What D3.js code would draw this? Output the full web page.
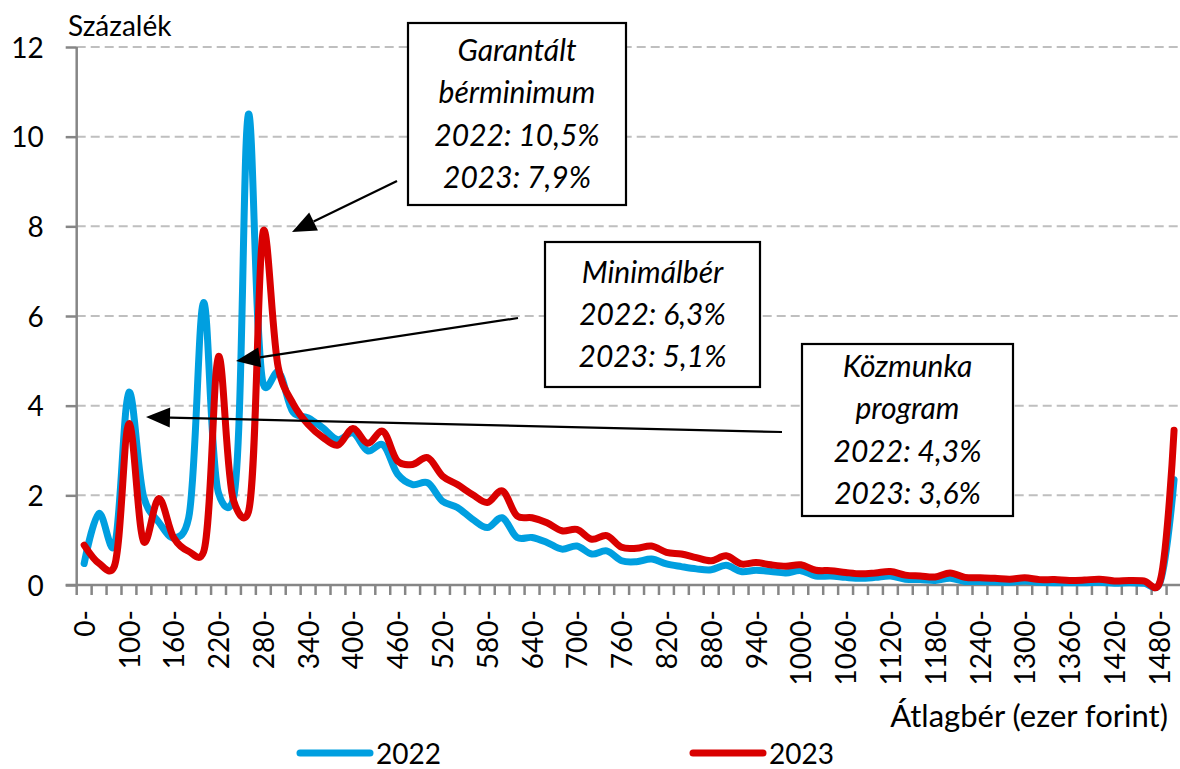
<!DOCTYPE html>
<html>
<head>
<meta charset="utf-8">
<script src="https://cdnjs.cloudflare.com/ajax/libs/d3/7.8.5/d3.min.js"></script>
<style>
  body { margin: 0; background: #fff; }
  svg text { font-family: Lato, "Noto Sans", sans-serif; fill: #000; }
  .grid line { stroke: #bfbfbf; stroke-width: 2; stroke-dasharray: 9,5; }
  .axis line, .axisline { stroke: #868686; stroke-width: 2.5; }
  .note text { font-style: italic; font-size: 30px; text-anchor: middle; }
</style>
</head>
<body>
<script>
// wage bands (thousand HUF), only every third one is labelled
var categories = ["0-","60-","80-","100-","120-","140-","160-","180-","200-","220-","240-","260-","280-","300-","320-","340-","360-","380-","400-","420-","440-","460-","480-","500-","520-","540-","560-","580-","600-","620-","640-","660-","680-","700-","720-","740-","760-","780-","800-","820-","840-","860-","880-","900-","920-","940-","960-","980-","1000-","1020-","1040-","1060-","1080-","1100-","1120-","1140-","1160-","1180-","1200-","1220-","1240-","1260-","1280-","1300-","1320-","1340-","1360-","1380-","1400-","1420-","1440-","1460-","1480-","1500-"];
var tickLabels = ["0-","100-","160-","220-","280-","340-","400-","460-","520-","580-","640-","700-","760-","820-","880-","940-","1000-","1060-","1120-","1180-","1240-","1300-","1360-","1420-","1480-"];
var yTicks = [0, 2, 4, 6, 8, 10, 12];

var values2022 = [0.48,1.6,0.85,4.3,1.95,1.4,1.05,1.5,6.3,2.05,1.93,10.5,4.48,4.75,3.85,3.73,3.5,3.24,3.39,2.99,3.13,2.47,2.24,2.28,1.87,1.73,1.47,1.28,1.5,1.06,1.06,0.95,0.8,0.87,0.69,0.76,0.54,0.52,0.58,0.47,0.41,0.36,0.34,0.44,0.3,
  0.33,0.3,0.27,0.32,0.2,0.2,0.17,0.15,0.17,0.2,0.13,0.12,0.1,0.15,0.08,0.08,0.07,0.06,0.09,0.06,0.05,0.05,0.05,0.06,0.04,0.05,0.04,0.01,2.35];
var values2023 = [0.89,0.48,0.4,3.6,0.96,1.93,1.05,0.75,0.74,5.1,1.89,1.63,7.9,4.85,4.04,3.58,3.29,3.12,3.49,3.16,3.43,2.76,2.69,2.84,2.43,2.24,2.02,1.84,2.1,1.54,1.5,1.39,1.21,1.24,1.02,1.1,0.84,0.82,0.87,0.73,0.69,0.61,0.54,0.65,0.47,
  0.5,0.45,0.42,0.45,0.33,0.32,0.28,0.25,0.27,0.3,0.22,0.2,0.18,0.27,0.17,0.16,0.15,0.13,0.16,0.12,0.12,0.1,0.11,0.13,0.09,0.1,0.09,0.02,3.45];

var series = [
  {name: "2022", values: values2022, color: "#009fe0"},
  {name: "2023", values: values2023, color: "#d90000"}
];

var notes = [
  {lines: ["Garantált", "bérminimum", "2022: 10,5%", "2023: 7,9%"], x: 408, y: 23, w: 218, h: 182},
  {lines: ["Minimálbér", "2022: 6,3%", "2023: 5,1%"], x: 545, y: 242, w: 215, h: 145},
  {lines: ["Közmunka", "program", "2022: 4,3%", "2023: 3,6%"], x: 802, y: 344, w: 211, h: 172}
];
var arrows = [
  {from: [397, 181], to: [292, 232]},
  {from: [518, 318], to: [236, 361]},
  {from: [782, 432], to: [146, 417]}
];

var width = 1180, height = 769;
var plotLeft = 76.7, plotBottom = 585, plotTop = 47;
var step = 14.93;

var xBand = d3.scaleBand().domain(categories)
    .range([plotLeft, plotLeft + step * categories.length]);
var x = d3.scalePoint().domain(categories)
    .range([plotLeft + step / 2, plotLeft + step * (categories.length - 0.5)]);
var y = d3.scaleLinear().domain([0, 12]).range([plotBottom, plotTop]);

var svg = d3.select("body").append("svg")
    .attr("width", width)
    .attr("height", height);

// gridlines
svg.append("g").attr("class", "grid")
  .selectAll("line")
  .data(yTicks.filter(function(d) { return d > 0; }))
  .enter().append("line")
    .attr("x1", plotLeft).attr("x2", width)
    .attr("y1", function(d) { return y(d); })
    .attr("y2", function(d) { return y(d); });

// y axis
var yAxis = svg.append("g").attr("class", "axis")
    .attr("transform", "translate(" + plotLeft + ",0)")
    .call(d3.axisLeft(y).tickValues(yTicks).tickSize(11).tickSizeOuter(0).tickPadding(22));
yAxis.select(".domain").remove();
yAxis.selectAll("text").attr("font-size", 28).attr("dy", "0.36em");

svg.append("line").attr("class", "axisline")
    .attr("x1", plotLeft).attr("x2", plotLeft)
    .attr("y1", plotTop).attr("y2", plotBottom);

// x axis line and ticks at band edges
svg.append("line").attr("class", "axisline")
    .attr("x1", plotLeft - 11).attr("x2", width)
    .attr("y1", plotBottom).attr("y2", plotBottom);
svg.append("g").attr("class", "axis")
  .selectAll("line")
  .data(categories)
  .enter().append("line")
    .attr("x1", function(d) { return xBand(d); })
    .attr("x2", function(d) { return xBand(d); })
    .attr("y1", plotBottom).attr("y2", plotBottom + 10);

var xAxis = svg.append("g")
    .attr("transform", "translate(0," + plotBottom + ")")
    .call(d3.axisBottom(x).tickValues(tickLabels).tickSize(0));
xAxis.select(".domain").remove();
xAxis.selectAll("text")
    .attr("font-size", 28)
    .attr("transform", "rotate(-90)")
    .attr("x", -25).attr("y", 0).attr("dy", "0.36em")
    .style("text-anchor", "end");

// series lines
var line = d3.line()
    .x(function(d, i) { return x(categories[i]); })
    .y(function(d) { return y(d); })
    .curve(d3.curveCatmullRom.alpha(0.25));

svg.selectAll("path.series")
  .data(series)
  .enter().append("path")
    .attr("class", "series")
    .attr("d", function(d) { return line(d.values); })
    .attr("fill", "none")
    .attr("stroke", function(d) { return d.color; })
    .attr("stroke-width", 7)
    .attr("stroke-linejoin", "round")
    .attr("stroke-linecap", "round");

// titles
svg.append("text").attr("x", 68).attr("y", 36).attr("font-size", 28).text("Százalék");
svg.append("text").attr("x", 1168).attr("y", 727).attr("font-size", 31)
    .style("text-anchor", "end").text("Átlagbér (ezer forint)");

// arrows
arrows.forEach(function(a) {
  var dx = a.to[0] - a.from[0], dy = a.to[1] - a.from[1];
  var len = Math.sqrt(dx * dx + dy * dy);
  var ux = dx / len, uy = dy / len;
  var hl = 24, hw = 10;
  var bx = a.to[0] - ux * hl, by = a.to[1] - uy * hl;
  svg.append("line")
      .attr("x1", a.from[0]).attr("y1", a.from[1])
      .attr("x2", bx).attr("y2", by)
      .attr("stroke", "#000").attr("stroke-width", 2.2);
  svg.append("polygon")
      .attr("points", [a.to, [bx - uy * hw, by + ux * hw], [bx + uy * hw, by - ux * hw]].join(" "))
      .attr("fill", "#000");
});

// annotation boxes
var note = svg.selectAll("g.note")
  .data(notes)
  .enter().append("g")
    .attr("class", "note");
note.append("rect")
    .attr("x", function(d) { return d.x; })
    .attr("y", function(d) { return d.y; })
    .attr("width", function(d) { return d.w; })
    .attr("height", function(d) { return d.h; })
    .attr("fill", "#fff").attr("stroke", "#000").attr("stroke-width", 2.2);
note.each(function(d) {
  var g = d3.select(this);
  var top = d.y + d.h / 2 - (d.lines.length - 1) * 42.3 / 2;
  d.lines.forEach(function(t, i) {
    g.append("text")
        .attr("x", d.x + d.w / 2)
        .attr("y", top + i * 42.3)
        .attr("dy", "0.35em")
        .text(t);
  });
});

// legend
var legend = svg.selectAll("g.legend")
  .data(series)
  .enter().append("g")
    .attr("class", "legend")
    .attr("transform", function(d, i) { return "translate(" + (300 + i * 393) + ",753)"; });
legend.append("line")
    .attr("x1", 0).attr("x2", 70)
    .attr("stroke", function(d) { return d.color; })
    .attr("stroke-width", 7)
    .attr("stroke-linecap", "round");
legend.append("text")
    .attr("x", 76).attr("y", 11)
    .attr("font-size", 28)
    .text(function(d) { return d.name; });
</script>
</body>
</html>
